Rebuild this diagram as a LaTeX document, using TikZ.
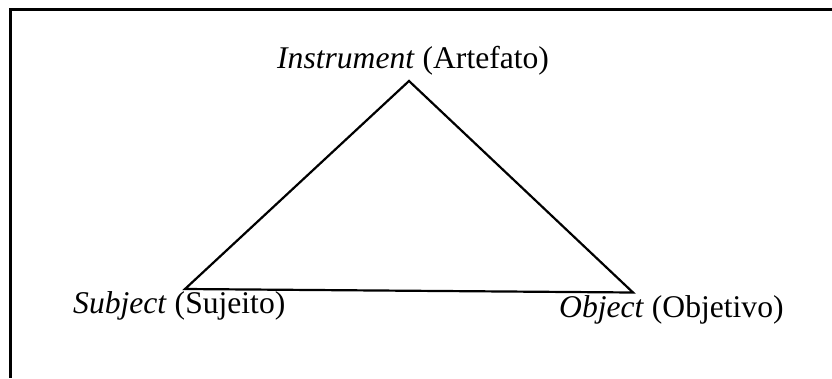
\documentclass[tikz,border=0pt]{standalone}
\usepackage{fontspec}
\setmainfont{Liberation Serif}
\usetikzlibrary{positioning}
\tikzset{line cap=butt,
  frame/.style={draw=black,line width=3pt},
  side/.style={draw=black,line width=2.2pt,line join=miter},
  lbl/.style={anchor=base west,inner sep=0pt,font=\fontsize{31.6}{36}\selectfont}}

\begin{document}
\begin{tikzpicture}[x=1pt,y=-1pt]
\useasboundingbox (0,0) rectangle (832,378);
% frame (top and left edges only)
\coordinate (ftl) at (10,9);
\coordinate (ftr) at (832,9);
\coordinate (fbl) at (10,378);
\draw[frame] (ftr) -- (ftl) -- (fbl);
% triangle corners
\coordinate (apex) at (409,81);
\coordinate (subj) at (185,289);
\coordinate (obj) at (633,292.5);
\draw[side] (apex) -- (subj) -- (obj) -- cycle;
% labels
\node[lbl] (instr) at (277,68) {\textit{Instrument} (Artefato)};
\node[lbl] (sujeito) at (73,313) {\textit{Subject} (Sujeito)};
\node[lbl] (objetivo) at (559,317) {\textit{Object} (Objetivo)};
\end{tikzpicture}
\end{document}
